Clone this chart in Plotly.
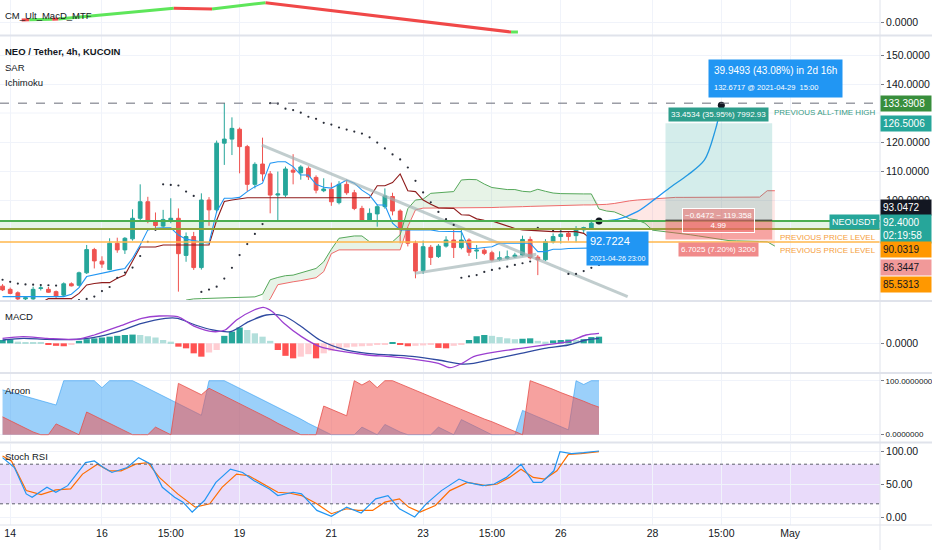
import pandas as pd
import plotly.graph_objects as go

T0 = pd.Timestamp("2021-04-13 23:00")
STEP_H = 4

# ---------------- data ----------------
opens = [70.3, 69.2, 68.0, 65.9, 65.9, 69.5, 69.2, 68.4, 67.2, 71.1,
         70.6, 74.9, 82.9, 78.9, 76.0, 85.1, 82.8, 86.6, 93.7, 99.4,
         92.8, 91.0, 93.1, 93.7, 80.9, 87.4, 76.7, 100.0, 96.6, 119.6,
         121.0, 124.4, 118.4, 105.4, 112.4, 109.0, 101.7, 101.7, 110.3, 109.4,
         110.9, 107.8, 103.2, 103.7, 99.1, 105.4, 102.5, 97.1, 93.1, 95.2,
         97.7, 101.2, 96.2, 89.7, 85.1, 75.6, 83.7, 80.5, 84.1, 86.2,
         83.6, 86.2, 82.4, 82.7, 81.8, 79.5, 79.9, 80.4, 81.0, 86.4,
         80.3, 79.4, 85.6, 87.4, 88.5, 87.7, 89.7, 90.3, 92.0]
highs = [71.0, 69.8, 68.5, 66.6, 70.1, 70.5, 70.0, 68.8, 71.6, 71.6,
         75.3, 84.5, 83.5, 80.6, 86.8, 87.0, 87.2, 96.8, 105.4, 101.1,
         95.7, 96.6, 100.6, 97.1, 88.8, 89.0, 102.3, 101.0, 120.5, 133.4,
         128.5, 125.0, 119.0, 113.0, 121.5, 110.0, 109.8, 111.5, 115.8, 112.0,
         111.6, 108.5, 107.5, 106.0, 106.5, 107.0, 103.5, 98.0, 97.1, 98.5,
         104.0, 102.5, 96.8, 90.5, 86.0, 86.0, 84.5, 84.8, 87.5, 90.2,
         90.2, 86.8, 84.5, 83.3, 82.5, 82.3, 82.6, 81.8, 87.7, 87.4,
         81.0, 86.5, 88.5, 88.7, 89.0, 91.0, 90.8, 93.2, 93.0]
lows = [68.6, 67.5, 65.0, 65.2, 65.6, 68.8, 68.0, 66.0, 66.8, 70.2,
        70.2, 74.5, 76.4, 76.6, 75.8, 81.8, 81.4, 86.0, 93.0, 92.0,
        90.3, 90.5, 92.0, 68.4, 78.7, 75.9, 76.0, 91.1, 95.5, 112.1,
        115.5, 109.2, 103.0, 104.0, 106.5, 95.4, 93.1, 101.0, 105.4, 107.0,
        106.9, 102.3, 102.7, 98.0, 98.5, 101.8, 96.5, 92.5, 92.6, 90.8,
        97.0, 94.7, 85.1, 84.0, 73.0, 74.5, 77.6, 80.0, 83.6, 80.0,
        83.0, 80.7, 79.7, 81.0, 78.8, 79.0, 79.5, 80.0, 80.6, 79.5,
        74.1, 79.0, 85.0, 85.0, 86.0, 85.4, 88.6, 90.0, 91.6]
closes = [69.0, 67.8, 65.9, 66.3, 69.2, 69.7, 68.2, 66.9, 71.1, 70.4,
          74.9, 82.9, 79.0, 77.9, 85.1, 82.8, 86.8, 93.7, 99.4, 92.8,
          91.2, 93.3, 93.7, 81.5, 87.4, 76.7, 100.0, 96.6, 119.6, 121.0,
          124.7, 118.4, 105.4, 112.3, 109.0, 101.7, 102.1, 110.7, 109.6, 111.4,
          108.0, 103.4, 103.8, 99.4, 105.4, 102.5, 97.1, 92.9, 95.4, 97.7,
          101.4, 96.2, 89.9, 85.1, 75.5, 83.9, 80.2, 84.1, 86.2, 83.6,
          86.2, 82.0, 82.7, 81.6, 79.3, 80.1, 80.4, 81.0, 86.4, 80.1,
          79.4, 85.6, 87.4, 88.2, 87.4, 89.7, 90.5, 92.0, 92.4]

sar = [72.5, 71.8, 71.2, 70.9, 70.8, 70.7, 70.6, 70.5,
       65.0, 65.2, 65.5, 65.9, 66.7, 68.6, 70.0, 73.2, 75.0, 76.7, 80.7, 85.6, 89.7,
       105.4, 105.2, 105.0, 102.9, 101.4,
       68.3, 69.1, 70.1, 72.9, 76.6, 81.0, 84.8, 88.3, 91.7,
       133.4, 133.2, 131.5, 131.0, 130.1, 128.7, 128.0, 126.6, 126.0, 125.0,
       124.3, 123.6, 122.9, 121.6, 119.8, 117.8, 115.7, 114.0, 111.2, 106.6,
       102.6, 99.2, 95.9, 93.4, 91.4,
       73.2, 73.7, 74.1, 75.2, 75.9, 76.4, 77.0, 77.6, 78.2, 78.8,
       90.4, 90.0, 89.6, 89.2,
       74.5, 74.5, 75.5, 76.6, 77.6]

tenkan = [66.7, 66.7, 66.7, 66.7, 66.7, 66.7, 66.7, 66.7, 66.7,
          67.5, 69.8, 73.6, 74.1, 74.7, 75.3, 75.9, 76.4, 79.9, 84.5, 89.7,
          90.2, 90.4, 90.4, 87.9, 86.5, 86.0, 85.6, 85.1,
          96.0, 100.6, 100.6, 100.9, 102.9, 104.6, 105.8, 112.7, 113.2, 113.2,
          111.5, 108.6, 108.6, 105.4, 104.4, 104.1, 105.4, 106.9, 105.8, 103.4,
          101.7, 98.3, 98.3, 92.0,
          89.7, 89.7, 89.7, 89.7, 89.7, 89.2, 89.1, 89.1, 89.1,
          83.3, 83.3, 83.6, 83.9, 85.1, 85.1, 85.1, 85.1, 85.1,
          82.2, 82.2, 83.0, 83.0, 83.3, 83.3, 83.5, 83.5, 83.5]

kijun = [64.5, 64.5, 64.5, 64.5, 64.5, 64.5, 66.0, 66.0, 66.0, 66.0,
         67.8, 70.7, 71.2, 71.5, 71.5, 73.0, 74.1, 78.7, 83.8, 83.8, 83.8,
         84.5, 84.5, 84.5, 84.5, 84.5, 84.5, 84.5,
         93.0, 99.5, 100.0, 100.3,
         100.8, 100.8, 100.8, 100.8, 100.8, 100.8, 100.8, 100.8, 100.8, 100.8,
         100.8, 100.8, 100.8, 100.8, 100.8, 100.8, 100.8,
         104.9, 104.9, 106.0, 109.0, 103.2, 102.9, 100.0, 98.5, 97.3, 97.1,
         97.1, 94.9, 94.8, 93.5, 93.0, 92.8, 92.0, 91.0, 90.2, 89.7,
         89.5, 89.4, 89.1, 89.1, 89.1, 89.1, 89.1, 88.5, 86.5, 85.6]

span_a_idx = list(range(24, 102))
span_a = [65.5, 65.9, 66.0, 66.1, 66.2, 66.3, 66.4, 66.5, 66.5, 66.6,
          67.5, 72.5, 73.3, 73.9, 74.1, 74.8, 75.6, 76.4, 78.7, 83.0,
          86.8, 87.2, 87.6, 87.6, 85.6, 85.6, 85.6, 85.6, 88.0, 97.0,
          100.0, 100.3, 102.3, 102.5, 102.7, 102.9, 106.9, 107.1, 107.0, 105.5,
          104.3, 104.0, 103.6, 103.6, 103.0, 102.8, 103.7, 103.0, 102.4, 102.2,
          102.1, 102.1, 102.1, 102.1, 96.9, 96.2, 95.9, 94.8, 93.5, 93.1,
          92.0, 89.6, 89.3, 89.0, 88.7, 88.5, 88.0, 87.6, 87.2, 86.6,
          86.2, 86.0, 85.9, 85.9, 85.8, 85.7, 85.6, 84.1]
span_b_idx = list(range(34, 102))
span_b = [63.0, 65.9, 70.8, 71.4, 71.8, 72.2, 72.6, 73.2, 75.3, 81.5,
          82.8, 82.8, 82.8, 82.8, 82.8, 82.8, 82.8, 82.8, 82.8, 90.8,
          96.6, 97.2, 97.2, 97.2, 97.2, 97.2, 97.2, 97.3, 97.3, 97.4,
          97.4, 97.5, 97.5, 97.6, 97.7, 97.8, 97.9, 98.0, 98.1, 98.2,
          98.3, 98.3, 98.3, 98.3, 98.3, 98.5, 98.8, 99.3, 99.7, 100.0,
          100.2, 100.4, 100.6, 100.8, 100.9, 100.9, 100.9, 100.9, 100.9, 100.9,
          100.9, 100.9, 100.9, 100.9, 100.9, 101.0, 103.2, 103.2]

# drawings (bar index, price)
trend_down = ([33.9, 81.75], [118.9, 66.7])
trend_up = ([53.9, 69.8], [74.7, 81.3])
forecast_idx = [78, 80.4, 83.0, 85.3, 87.4, 89.6, 91.8, 93.2, 94]
forecast_px = [92.7224, 93.3, 96.0, 100.3, 104.5, 108.6, 113.8, 124.0, 132.6717]
ath = 133.3908
band_top = 92.8
level_1 = 90.0319
level_2 = 85.5313
entry, target, stop = 93.0472, 126.5006, 86.3447
pos_start, pos_end = 86.7, 100.65
last_price = 92.4

# top pane indicator (CM_Ult_MacD_MTF)
mtf_idx = [2.5, 3.5, 6.5, 7.3, 22.4, 27.4, 34.4, 66.5, 67.4]
mtf_val = [0.2, 0.22, 0.28, 0.3, 1.37, 1.3, 1.93, -1.0, -1.0]
mtf_seg = ["r", "g", "r", "g", "r", "g", "r", "g"]

# MACD
hist = [0.40, 0.48, 0.20, 0.15, 0.10, 0.05, -0.15, -0.30, -0.35, -0.20,
        0.30, 0.50, 0.60, 0.70, 0.80, 0.90, 1.00, 1.05, 1.00, 0.85,
        0.70, 0.40, 0.20, -0.40, -0.60, -1.20, -1.60, -1.10, -0.80, 0.90,
        1.40, 1.90, 1.60, 1.20, 0.80, 0.30, -0.80, -1.50, -1.80, -1.60,
        -1.30, -1.80, -1.20, -0.90, -0.70, -0.50, -0.40, -0.35, -0.30, -0.20,
        -0.15, 0.08, -0.20, -0.35, -0.30, -0.25, -0.20, -0.55, -0.60, -0.30,
        -0.10, 0.40, 0.85, 1.00, 0.90, 0.75, 0.60, 0.50, 0.55, 0.60,
        0.30, 0.20, 0.35, 0.40, 0.45, 0.40, 0.50, 0.75, 0.80]
macd_idx = [0, 2.7, 5.8, 9.7, 12.0, 15.1, 18.2, 20.5, 22.9, 25.2, 27.5, 29.1, 30.6, 32.9,
            34.1, 35.3, 36.8, 39.1, 41.5, 44.6, 47.7, 50.8, 53.9, 57.0, 58.5, 60.1, 61.6,
            64.7, 67.8, 70.9, 74.0, 76.3, 78.0]
macd_val = [0.6, 0.8, 0.6, 0.48, 1.0, 2.0, 3.0, 3.28, 3.2, 2.0, 1.4, 1.6, 2.8, 4.0,
            4.32, 3.8, 2.4, 0.8, -0.4, -1.0, -1.4, -1.6, -1.92, -2.4, -2.92, -2.4, -1.6,
            -1.0, -0.6, -0.2, 0.2, 1.0, 1.2]
sig_idx = [0, 2.7, 5.8, 9.3, 12.0, 15.1, 18.2, 21.3, 22.9, 25.2, 27.5, 29.8, 32.2, 34.5,
           36.8, 39.1, 41.5, 44.6, 47.7, 50.8, 53.9, 57.0, 60.1, 61.6, 64.7, 67.8, 70.9,
           74.0, 76.3, 78.0]
sig_val = [0.4, 0.6, 0.48, 0.48, 0.72, 1.4, 2.4, 3.0, 3.0, 2.2, 1.6, 1.4, 2.6, 3.4,
           3.28, 2.0, 0.4, -0.72, -1.2, -1.4, -1.6, -2.0, -2.48, -2.4, -1.8, -1.2, -0.6,
           -0.2, 0.4, 0.6]

# Aroon
aroon_up = [83, 79, 75, 71, 67, 63, 59, 55,
            100, 100, 100, 100, 100, 87, 100, 100, 100, 100,
            93, 86, 79, 71, 64, 57, 50, 43, 36,
            100, 100, 100,
            93, 86, 79, 71, 64, 57, 50, 43, 36, 29, 21, 14, 7, 0,
            0, 0, 0, 14, 7, 0, 19, 12, 5, 0, 0, 0, 0, 14, 7, 0,
            28, 21, 14, 7, 0, 0, 0, 0,
            45, 39, 33, 27, 21, 15, 9,
            100, 93, 100, 100]
aroon_down = [33, 26, 19, 12, 5, 0, 0,
              20, 13, 6, 0,
              42, 35, 28, 21, 14, 7, 0, 0, 0,
              14, 7, 0,
              95, 88, 81, 74,
              86, 79, 71, 64, 57, 50, 43, 36, 29, 21, 14, 7,
              0, 0, 0,
              53, 47, 41, 35,
              100, 92, 100, 87, 100,
              100, 94, 88, 82, 76, 71, 65, 59, 53, 47, 41, 35, 29, 24, 18, 12, 6, 0,
              100, 95, 89, 84, 78, 73, 67, 62, 56, 51]

# Stoch RSI
k_idx = [0.0, 1.55, 3.1, 3.87, 5.81, 6.97, 8.52, 9.7, 10.85, 12.0, 13.2, 14.3, 16.3, 17.8,
         19.4, 20.9, 22.5, 23.6, 24.8, 26.4, 27.9, 29.8, 31.4, 32.9, 34.9, 36.0, 38.0, 39.1,
         41.1, 43.0, 45.0, 46.9, 48.8, 50.4, 51.9, 53.9, 55.4, 57.4, 59.7, 60.8, 62.8, 64.3,
         65.9, 67.8, 69.4, 70.5, 72.1, 72.9, 74.4, 76.0, 78.0]
k_val = [90, 75, 35, 30, 45, 37.5, 47.5, 65, 82.5, 85, 75, 67.5, 75, 90,
         80, 45, 30, 22.5, 7.5, 25, 52.5, 72.5, 67.5, 55, 42.5, 32.5, 37.5, 35,
         10, 1, 15, 6, 27.5, 32.5, 12.5, 0, 20, 40, 57.5, 52.5, 47.5, 50,
         60, 80, 52.5, 52.5, 70, 99, 96, 97.5, 100]
d_idx = [0, 1.16, 3.1, 5.03, 6.97, 8.9, 10.46, 12.4, 13.95, 15.5, 17.4, 19.0, 20.5, 22.9,
         25.2, 27.1, 28.7, 30.6, 32.2, 34.1, 36.0, 37.6, 39.1, 41.1, 43.0, 45.0, 46.5, 48.4,
         50.0, 51.9, 53.1, 54.6, 56.6, 58.5, 60.8, 63.2, 64.7, 66.3, 67.8, 69.4, 70.9, 72.5,
         74.0, 75.6, 78.0]
d_val = [92.5, 85, 40, 34, 41, 42.5, 65, 80, 70, 70, 80, 82.5, 60, 35,
         15, 20, 45, 65, 62.5, 50, 37.5, 36, 32.5, 20, 5, 12.5, 10, 10,
         22.5, 27.5, 15, 7.5, 17.5, 40, 52.5, 47.5, 50, 60, 72.5, 60, 57.5, 70,
         95, 96, 99]

# time axis
tick_idx = [1, 13, 22, 31, 43, 55, 64, 73, 85, 94, 103]
tick_txt = ["14", "16", "15:00", "19", "21", "23", "15:00", "26", "28", "15:00", "May"]


def tpos(idx):
    return [T0 + pd.Timedelta(hours=STEP_H * float(i)) for i in idx]


times = pd.date_range(T0, periods=len(opens), freq="4h")

# ---------------- styling ----------------
FONT = "Liberation Sans, Arial, sans-serif"
TXT = "#131722"
UP, DOWN = "#26a69a", "#ef5350"
W, H = 880, 525  # plot area in px
X_RANGE = [T0 - pd.Timedelta(minutes=80), T0 + pd.Timedelta(hours=459.0)]


def dom(top_px, bot_px):
    return [(H - bot_px) / H, (H - top_px) / H]


fig = go.Figure()
common = dict(showlegend=False, hoverinfo="skip")

# --- top pane
seg_col = {"g": "#5ee65a", "r": "#f04848"}
for k in range(len(mtf_seg)):
    fig.add_trace(go.Scatter(x=tpos(mtf_idx[k:k + 2]), y=mtf_val[k:k + 2], mode="lines",
                             line=dict(color=seg_col[mtf_seg[k]], width=3),
                             xaxis="x", yaxis="y", **common))

# --- main pane: Ichimoku cloud
a_map = dict(zip(span_a_idx, span_a))
b_map = dict(zip(span_b_idx, span_b))
both = [i for i in span_b_idx if i in a_map]
a_c = [a_map[i] for i in both]
b_c = [b_map[i] for i in both]
upper = [max(a, b) for a, b in zip(a_c, b_c)]
fig.add_trace(go.Scatter(x=tpos(both), y=b_c, mode="lines", line=dict(width=0),
                         xaxis="x2", yaxis="y2", **common))
fig.add_trace(go.Scatter(x=tpos(both), y=upper, mode="lines", line=dict(width=0), fill="tonexty",
                         fillcolor="rgba(67,160,71,0.13)", xaxis="x2", yaxis="y2", **common))
fig.add_trace(go.Scatter(x=tpos(both), y=a_c, mode="lines", line=dict(width=0),
                         xaxis="x2", yaxis="y2", **common))
fig.add_trace(go.Scatter(x=tpos(both), y=upper, mode="lines", line=dict(width=0), fill="tonexty",
                         fillcolor="rgba(244,67,54,0.13)", xaxis="x2", yaxis="y2", **common))
fig.add_trace(go.Scatter(x=tpos(span_a_idx), y=span_a, mode="lines",
                         line=dict(color="#55a85a", width=1), xaxis="x2", yaxis="y2", **common))
fig.add_trace(go.Scatter(x=tpos(span_b_idx), y=span_b, mode="lines",
                         line=dict(color="#ef6b6b", width=1), xaxis="x2", yaxis="y2", **common))
fig.add_trace(go.Scatter(x=times, y=kijun, mode="lines",
                         line=dict(color="#8e1b1b", width=1.1), xaxis="x2", yaxis="y2", **common))
fig.add_trace(go.Scatter(x=times, y=tenkan, mode="lines",
                         line=dict(color="#2196f3", width=1.1), xaxis="x2", yaxis="y2", **common))

# trend lines
for tl in (trend_down, trend_up):
    fig.add_trace(go.Scatter(x=tpos(tl[0]), y=tl[1], mode="lines",
                             line=dict(color="rgba(160,178,180,0.65)", width=3),
                             xaxis="x2", yaxis="y2", **common))

# candles
fig.add_trace(go.Candlestick(x=times, open=opens, high=highs, low=lows, close=closes,
                             increasing=dict(line=dict(color=UP, width=1), fillcolor=UP),
                             decreasing=dict(line=dict(color=DOWN, width=1), fillcolor=DOWN),
                             whiskerwidth=0, xaxis="x2", yaxis="y2", **common))

# SAR
fig.add_trace(go.Scatter(x=times, y=sar, mode="markers",
                         marker=dict(size=2.2, color="#2a2e39"), xaxis="x2", yaxis="y2", **common))

# forecast
fig.add_trace(go.Scatter(x=tpos(forecast_idx), y=forecast_px, mode="lines",
                         line=dict(color="#2196f3", width=1.3, shape="spline", smoothing=0.9),
                         xaxis="x2", yaxis="y2", **common))
fig.add_trace(go.Scatter(x=tpos([forecast_idx[0], forecast_idx[-1]]),
                         y=[forecast_px[0], forecast_px[-1]], mode="markers",
                         marker=dict(size=7, color="#131722"), xaxis="x2", yaxis="y2", **common))

# --- MACD
hist_col = []
for i, v in enumerate(hist):
    prev = hist[i - 1] if i > 0 else v
    if v >= 0:
        hist_col.append("#26a69a" if v >= prev else "#b2dfdb")
    else:
        hist_col.append("#ff5252" if v <= prev else "#ffcdd2")
fig.add_trace(go.Bar(x=times, y=hist, marker=dict(color=hist_col, line=dict(width=0)),
                     xaxis="x3", yaxis="y3", **common))
fig.add_trace(go.Scatter(x=tpos(sig_idx), y=sig_val, mode="lines",
                         line=dict(color="#2f4aa0", width=1.3, shape="spline", smoothing=0.8),
                         xaxis="x3", yaxis="y3", **common))
fig.add_trace(go.Scatter(x=tpos(macd_idx), y=macd_val, mode="lines",
                         line=dict(color="#9b3fd0", width=1.3, shape="spline", smoothing=0.8),
                         xaxis="x3", yaxis="y3", **common))

# --- Aroon
fig.add_trace(go.Scatter(x=times, y=aroon_up, mode="lines", fill="tozeroy",
                         fillcolor="rgba(33,150,243,0.45)",
                         line=dict(color="rgba(33,150,243,0.55)", width=1),
                         xaxis="x4", yaxis="y4", **common))
fig.add_trace(go.Scatter(x=times, y=aroon_down, mode="lines", fill="tozeroy",
                         fillcolor="rgba(239,83,80,0.55)",
                         line=dict(color="rgba(230,80,75,0.8)", width=1),
                         xaxis="x4", yaxis="y4", **common))

# --- Stoch RSI
fig.add_trace(go.Scatter(x=tpos(d_idx), y=d_val, mode="lines",
                         line=dict(color="#ff6d00", width=1.2), xaxis="x5", yaxis="y5", **common))
fig.add_trace(go.Scatter(x=tpos(k_idx), y=k_val, mode="lines",
                         line=dict(color="#2196f3", width=1.2), xaxis="x5", yaxis="y5", **common))

# ---------------- shapes ----------------
shapes = []
shapes.append(dict(type="rect", xref="x2 domain", yref="y2", x0=0, x1=1, y0=level_1, y1=band_top,
                   fillcolor="rgba(76,175,80,0.14)", line=dict(width=0), layer="below"))
shapes.append(dict(type="line", xref="x2 domain", yref="y2", x0=0, x1=1, y0=band_top, y1=band_top,
                   line=dict(color="#4caf50", width=2)))
shapes.append(dict(type="line", xref="x2 domain", yref="y2", x0=0, x1=1, y0=level_1, y1=level_1,
                   line=dict(color="#8fa33a", width=2)))
shapes.append(dict(type="line", xref="x2 domain", yref="y2", x0=0, x1=1, y0=level_2, y1=level_2,
                   line=dict(color="#ffb74d", width=1.5)))
shapes.append(dict(type="line", xref="x2 domain", yref="y2", x0=0, x1=1, y0=ath, y1=ath,
                   line=dict(color="#6a6d78", width=1, dash="dash")))
ps, pe = tpos([pos_start, pos_end])
shapes.append(dict(type="rect", xref="x2", yref="y2", x0=ps, x1=pe, y0=entry, y1=target,
                   fillcolor="rgba(38,166,154,0.2)", line=dict(width=0), layer="above"))
shapes.append(dict(type="rect", xref="x2", yref="y2", x0=ps, x1=pe, y0=stop, y1=entry,
                   fillcolor="rgba(239,83,80,0.45)", line=dict(width=0), layer="above"))
shapes.append(dict(type="line", xref="x2", yref="y2", x0=ps, x1=pe, y0=entry, y1=entry,
                   line=dict(color="#3a3a3a", width=1)))
shapes.append(dict(type="rect", xref="x5 domain", yref="y5", x0=0, x1=1, y0=20, y1=80,
                   fillcolor="rgba(155,89,230,0.22)", line=dict(width=0), layer="below"))
for lv in (20, 80):
    shapes.append(dict(type="line", xref="x5 domain", yref="y5", x0=0, x1=1, y0=lv, y1=lv,
                       line=dict(color="#5d606b", width=1, dash="dot")))
for lv in (90, 130):
    shapes.append(dict(type="line", xref="x2 domain", yref="y2", x0=0, x1=1, y0=lv, y1=lv,
                       line=dict(color="#f0f3fa", width=1), layer="below"))
for px in (35.5, 301, 373, 442.5, 525):
    yp = (H - px) / H
    shapes.append(dict(type="line", xref="paper", yref="paper", x0=0, x1=932 / W, y0=yp, y1=yp,
                       line=dict(color="#e0e3eb", width=2 if px < 525 else 1)))
shapes.append(dict(type="line", xref="paper", yref="paper", x0=1, x1=1, y0=-25 / H, y1=1,
                   line=dict(color="#e0e3eb", width=1)))

# ---------------- annotations ----------------
ann = []


def pane_label(text, y_px, bold=False, size=9.5):
    ann.append(dict(text=f"<b>{text}</b>" if bold else text, xref="paper", yref="paper",
                    x=3 / W, y=(H - y_px) / H, xanchor="left", yanchor="middle", showarrow=False,
                    font=dict(size=size, color=TXT)))


pane_label("CM_Ult_MacD_MTF", 15)
pane_label("NEO / Tether, 4h, KUCOIN", 51, bold=True)
pane_label("SAR", 67)
pane_label("Ichimoku", 83)
pane_label("MACD", 316)
pane_label("Aroon", 390)
pane_label("Stoch RSI", 456)


def price_tag(text, y, bg, fg="white", yshift=0, yanchor="middle"):
    ann.append(dict(text=text, xref="paper", yref="y2", x=1, y=y, xanchor="left", yanchor=yanchor,
                    xshift=0, yshift=yshift, showarrow=False, bgcolor=bg, borderpad=2,
                    width=46, align="left", font=dict(size=10, color=fg)))


price_tag(f"{ath:.4f}", ath, "#388e3c")
price_tag(f"{target:.4f}", target, "#26a69a")
price_tag(f"{entry:.4f}", entry, "#131722", yshift=13)
price_tag(f"{last_price:.4f}<br>02:19:58", last_price, "#26a69a", yshift=8, yanchor="top")
price_tag(f"{level_1:.4f}", level_1, "#ff9800", fg=TXT, yshift=-21)
price_tag(f"{stop:.4f}", stop, "#f19999", fg=TXT, yshift=-28)
price_tag(f"{level_2:.4f}", level_2, "#ff9800", fg=TXT, yshift=-43)
ann.append(dict(text="NEOUSDT", xref="paper", yref="y2", x=1, y=last_price, xanchor="right",
                yanchor="middle", showarrow=False, bgcolor="#26a69a", borderpad=2,
                font=dict(size=9, color="white")))

ann.append(dict(text="PREVIOUS ALL-TIME HIGH", xref="paper", yref="y2", x=1, y=ath, xanchor="right",
                yanchor="top", xshift=-2, yshift=-3, showarrow=False,
                font=dict(size=8, color="#3a9a84")))
for lv in (level_1, level_2):
    ann.append(dict(text="PREVIOUS PRICE LEVEL", xref="paper", yref="y2", x=1, y=lv, xanchor="right",
                    yanchor="top", xshift=-2, yshift=-2, showarrow=False,
                    font=dict(size=8, color="#f5a040")))

mid = tpos([(pos_start + pos_end) / 2])[0]
ann.append(dict(text="33.4534 (35.95%) 7992.93", xref="x2", yref="y2", x=mid, y=target,
                yanchor="bottom", yshift=1, showarrow=False, bgcolor="#2e9e8c", borderpad=2,
                font=dict(size=8, color="white")))
ann.append(dict(text="\u22120.6472 ~ 119.358<br>4.99", xref="x2", yref="y2", x=mid, y=entry,
                yanchor="middle", showarrow=False, bgcolor="rgba(239,110,110,0.55)",
                bordercolor="white", borderwidth=1, borderpad=2,
                font=dict(size=8, color="white")))
ann.append(dict(text="6.7025 (7.20%) 3200", xref="x2", yref="y2", x=mid, y=stop,
                yanchor="top", yshift=-2, showarrow=False, bgcolor="#f08a8a", borderpad=2,
                font=dict(size=8, color="white")))

ft, fs = tpos([forecast_idx[-1], forecast_idx[0]])
ann.append(dict(text="<span style='font-size:10px'>39.9493 (43.08%) in 2d 16h</span><br>"
                     "<span style='font-size:7.5px'>132.6717 @ 2021-04-29  15:00</span>",
                xref="x2", yref="y2", x=ft, y=forecast_px[-1], xanchor="left", yanchor="bottom",
                xshift=-13, yshift=7, showarrow=False, bgcolor="#2196f3", borderpad=5,
                align="left", font=dict(color="white")))
ann.append(dict(text="<span style='font-size:11px'>92.7224</span><br>"
                     "<span style='font-size:7px'>2021-04-26 23:00</span>",
                xref="x2", yref="y2", x=fs, y=forecast_px[0], xanchor="left", yanchor="top",
                xshift=-13, yshift=-10, showarrow=False, bgcolor="#2196f3", borderpad=3,
                align="left", font=dict(color="white")))

# ---------------- axes ----------------
GRID = "#f0f3fa"


def xax(anchor, labels=False):
    return dict(domain=[0, 1], anchor=anchor, type="date", range=X_RANGE, showgrid=True,
                gridcolor=GRID, zeroline=False, showline=False, tickmode="array",
                tickvals=tpos(tick_idx), ticktext=tick_txt, showticklabels=labels, ticks="",
                rangeslider=dict(visible=False), fixedrange=True,
                tickfont=dict(size=10.5, color=TXT))


def yax(anchor, domain, rng, tickvals, fmt, size=10.5):
    return dict(domain=domain, anchor=anchor, side="right", range=rng, tickvals=tickvals,
                tickformat=fmt, showgrid=True, gridcolor=GRID, zeroline=False, showline=False,
                ticks="outside", ticklen=3, tickcolor="#787b86", automargin=False,
                tickfont=dict(size=size, color=TXT), fixedrange=True)


layout = dict(
    width=932, height=550, margin=dict(l=0, r=52, t=0, b=25),
    paper_bgcolor="white", plot_bgcolor="white", font=dict(family=FONT, color=TXT),
    showlegend=False, hovermode=False, bargap=0.18,
    xaxis=xax("y"), xaxis2=xax("y2"), xaxis3=xax("y3"), xaxis4=xax("y4"), xaxis5=xax("y5", True),
    yaxis=yax("x", dom(0, 35), [-1.3, 2.2], [0], ".4f"),
    yaxis2=yax("x2", dom(36, 300), [65.52, 156.55], [100, 110, 120, 140, 150], ".4f"),
    yaxis3=yax("x3", dom(302, 372), [-3.44, 4.96], [0], ".4f"),
    yaxis4=yax("x4", dom(374, 441), [-11.7, 112.4], [0, 100], ".7f", size=8),
    yaxis5=yax("x5", dom(444, 525), [-12.1, 110.6], [0, 50, 100], ".2f"),
    shapes=shapes, annotations=ann,
)
fig.update_layout(**layout)
fig.write_html("out.html", config={"displayModeBar": False},
               post_script="document.body.style.margin='0px';")
